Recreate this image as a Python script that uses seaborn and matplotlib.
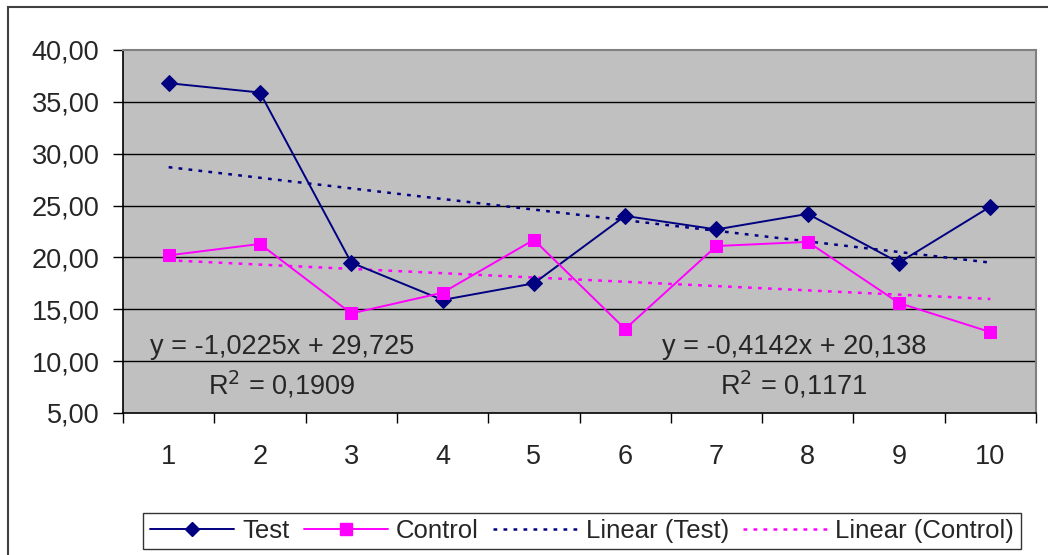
import numpy as np
import pandas as pd
import matplotlib
matplotlib.use("Agg")
import matplotlib.pyplot as plt
from matplotlib.lines import Line2D
from matplotlib.patches import Rectangle
import seaborn as sns

# ---- data ----
samples = [1, 2, 3, 4, 5, 6, 7, 8, 9, 10]
test_values = [36.8, 35.9, 19.5, 15.9, 17.5, 24.0, 22.7, 24.2, 19.5, 24.9]
control_values = [20.2, 21.3, 14.6, 16.6, 21.7, 13.1, 21.1, 21.5, 15.6, 12.8]

# linear trend coefficients (slope, intercept) and fit quality
test_fit = [-1.0225, 29.725]
control_fit = [-0.4142, 20.138]
test_r2 = "0,1909"
control_r2 = "0,1171"

y_ticks = [5, 10, 15, 20, 25, 30, 35, 40]

sns.set_theme(style="white")
plt.rcParams["font.family"] = ["Liberation Sans", "DejaVu Sans"]

NAVY = "#000080"
MAGENTA = "#FF00FF"
FS = 19.5

df = pd.DataFrame({
    "sample": samples * 2,
    "value": test_values + control_values,
    "series": ["Test"] * 10 + ["Control"] * 10,
})

fig = plt.figure(figsize=(10.48, 5.55), dpi=100)
ax = fig.add_axes([123 / 1048, 1 - 413 / 555, (1036 - 123) / 1048, (413 - 50) / 555])
ax.set_facecolor("#C0C0C0")

# trend lines
x_arr = np.array(samples, dtype=float)
ax.plot(x_arr, test_fit[0] * x_arr + test_fit[1], color=NAVY, lw=1.8,
        linestyle=(0, (1.5, 2.5)), zorder=2)
ax.plot(x_arr, control_fit[0] * x_arr + control_fit[1], color=MAGENTA, lw=1.8,
        linestyle=(0, (1.5, 2.5)), zorder=2)

sns.lineplot(data=df[df.series == "Test"], x="sample", y="value", ax=ax,
             color=NAVY, lw=1.4, marker="D", markersize=8,
             markeredgecolor=NAVY, markerfacecolor=NAVY, legend=False, zorder=3)
sns.lineplot(data=df[df.series == "Control"], x="sample", y="value", ax=ax,
             color=MAGENTA, lw=1.4, marker="s", markersize=9,
             markeredgecolor=MAGENTA, markerfacecolor=MAGENTA, legend=False, zorder=3)

ax.set_xlim(0.5, 10.5)
ax.set_ylim(5, 40)
ax.set_xlabel("")
ax.set_ylabel("")

# horizontal grid
for yv in y_ticks[1:-1]:
    ax.axhline(yv, color="black", lw=1.0, zorder=1)

ax.set_yticks(y_ticks)
ax.set_yticklabels([f"{v:.2f}".replace(".", ",") for v in y_ticks], fontsize=FS)
ax.tick_params(axis="y", direction="out", length=7, width=1, color="black",
               pad=10, left=True)

ax.set_xticks(samples)
ax.set_xticklabels([str(s) for s in samples], fontsize=FS)
ax.tick_params(axis="x", which="major", length=0, pad=22)
ax.set_xticks(np.arange(0.5, 11, 1.0), minor=True)
ax.tick_params(axis="x", which="minor", direction="out", length=7, width=1,
               color="black", bottom=True)

for side in ["top", "right"]:
    ax.spines[side].set_color("#808080")
    ax.spines[side].set_linewidth(1.5)
for side in ["left", "bottom"]:
    ax.spines[side].set_color("black")
    ax.spines[side].set_linewidth(1.2)

# regression equations
ax.text(2.24, 11.4, "y = -1,0225x + 29,725", ha="center", va="center", fontsize=FS)
ax.text(2.24, 7.7, "R$^2$ = " + test_r2, ha="center", va="center", fontsize=FS)
ax.text(7.85, 11.4, "y = -0,4142x + 20,138", ha="center", va="center", fontsize=FS)
ax.text(7.85, 7.7, "R$^2$ = " + control_r2, ha="center", va="center", fontsize=FS)

# legend
handles = [
    Line2D([], [], color=NAVY, lw=1.4, marker="D", markersize=7),
    Line2D([], [], color=MAGENTA, lw=1.4, marker="s", markersize=8),
    Line2D([], [], color=NAVY, lw=1.8, linestyle=(0, (1.5, 2.5))),
    Line2D([], [], color=MAGENTA, lw=1.8, linestyle=(0, (1.5, 2.5))),
]
labels = ["Test", "Control", "Linear (Test)", "Linear (Control)"]
leg = fig.legend(handles, labels, loc="center", bbox_to_anchor=(582 / 1048, 1 - 531 / 555),
                 ncol=4, frameon=True, fancybox=False, handlelength=3.3,
                 handletextpad=0.3, columnspacing=0.55, borderpad=0.25,
                 prop={"family": ["Liberation Sans"], "size": 18.5})
leg.get_frame().set_edgecolor("black")
leg.get_frame().set_linewidth(1.0)

# chart border
fig.patches.append(Rectangle((8 / 1048, -0.05), 1.2, 1 - 7 / 555 + 0.05,
                             transform=fig.transFigure, fill=False,
                             edgecolor="#404040", lw=1.5))

fig.savefig("out.png", dpi=100)
